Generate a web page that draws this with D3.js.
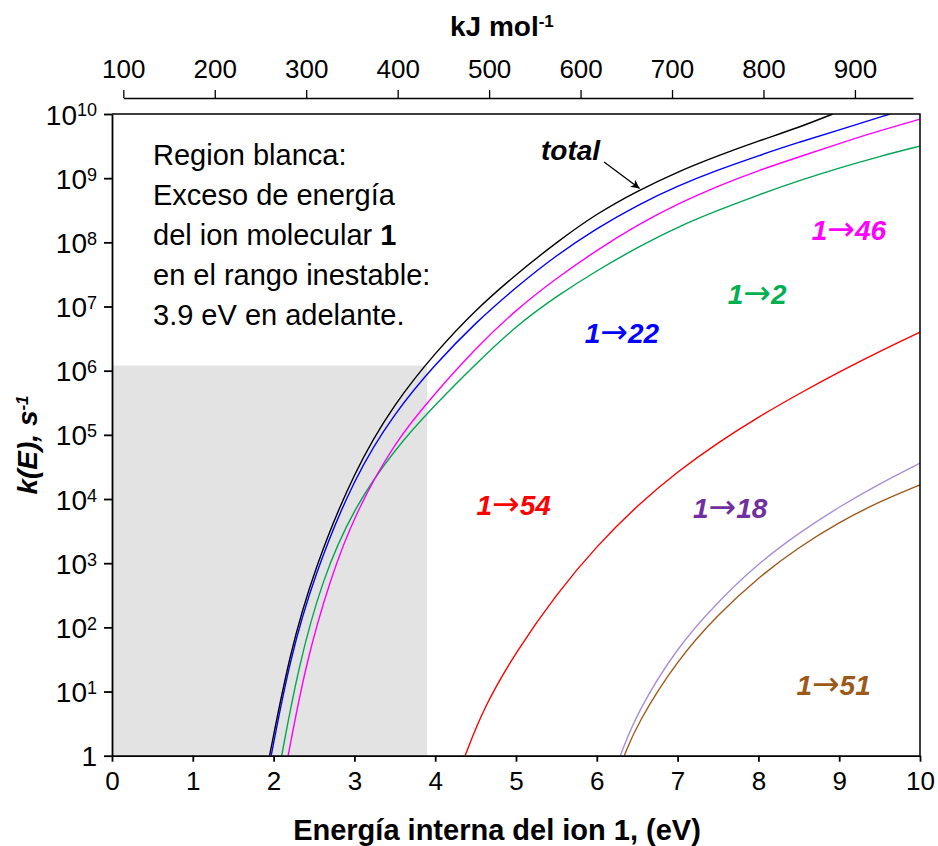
<!DOCTYPE html>
<html>
<head>
<meta charset="utf-8">
<script src="https://cdn.jsdelivr.net/npm/d3@7"></script>
<style>
  body { margin: 0; background: #fff; }
  text { font-family: "Liberation Sans", Arial, sans-serif; }
</style>
</head>
<body>
<div id="viz"></div>
<script>
// frame size and plot box
const F_WIDTH = 938;
const F_HEIGHT = 846;
const PLOT = {left: 112, right: 920, top: 114, bottom: 755.7};

// data: energy (eV) and log10 k(E) (k in s^-1)
const E_TOTAL = [1.95, 2.2, 2.5, 3.0, 3.5, 4.0, 4.5, 5.0, 5.5, 6.0, 6.5, 7.0, 7.5, 8.0, 8.5, 8.92];
const LOGK_TOTAL = [0, 1.6, 2.9, 4.45, 5.5, 6.28, 6.95, 7.5, 8.0, 8.45, 8.8, 9.1, 9.35, 9.58, 9.79, 10];

const E_22 = [1.97, 2.2, 2.5, 3.0, 3.5, 4.0, 4.5, 5.0, 5.5, 6.0, 6.5, 7.0, 7.5, 8.0, 8.5, 9.0, 9.63];
const LOGK_22 = [0, 1.5, 2.8, 4.35, 5.35, 6.1, 6.75, 7.3, 7.8, 8.22, 8.58, 8.88, 9.13, 9.35, 9.56, 9.75, 10];

const E_46 = [2.18, 2.4, 2.7, 3.0, 3.5, 4.0, 4.5, 5.0, 5.5, 6.0, 6.5, 7.0, 7.5, 8.0, 8.5, 9.0, 9.5, 10.0];
const LOGK_46 = [0, 1.45, 2.75, 3.75, 4.9, 5.65, 6.35, 6.95, 7.44, 7.88, 8.27, 8.6, 8.88, 9.12, 9.33, 9.54, 9.74, 9.92];

const E_2 = [2.10, 2.3, 2.6, 3.0, 3.5, 4.0, 4.5, 5.0, 5.5, 6.0, 6.5, 7.0, 7.5, 8.0, 8.5, 9.0, 9.5, 10.0];
const LOGK_2 = [0, 1.35, 2.75, 3.88, 4.78, 5.47, 6.1, 6.7, 7.16, 7.56, 7.92, 8.24, 8.5, 8.74, 8.96, 9.16, 9.34, 9.5];

const E_54 = [4.37, 4.6, 5.0, 5.5, 6.0, 6.5, 7.0, 7.5, 8.0, 8.5, 9.0, 9.5, 10.0];
const LOGK_54 = [0, 0.75, 1.62, 2.52, 3.27, 3.9, 4.43, 4.88, 5.28, 5.64, 5.98, 6.3, 6.6];

const E_18 = [6.29, 6.5, 7.0, 7.5, 8.0, 8.5, 9.0, 9.5, 10.0];
const LOGK_18 = [0, 0.68, 1.7, 2.4, 3.0, 3.47, 3.88, 4.24, 4.56];

const E_51 = [6.34, 6.5, 7.0, 7.5, 8.0, 8.5, 9.0, 9.5, 10.0];
const LOGK_51 = [0, 0.5, 1.5, 2.2, 2.78, 3.25, 3.64, 3.96, 4.22];

// shaded region: energies below 3.9 eV
const GRAY_E = 3.9;
const GRAY_K = 1.2e6;

// axis ticks
const X_TICKS = [0, 1, 2, 3, 4, 5, 6, 7, 8, 9, 10];
const Y_EXPONENTS = [0, 1, 2, 3, 4, 5, 6, 7, 8, 9, 10];
const KJ_TICKS = [100, 200, 300, 400, 500, 600, 700, 800, 900];
const KJ_MAX = 963.5;

const SERIES = [
  {name: "total", e: E_TOTAL, logk: LOGK_TOTAL, color: "#000000"},
  {name: "1→22", e: E_22, logk: LOGK_22, color: "#0000ff"},
  {name: "1→46", e: E_46, logk: LOGK_46, color: "#ff00ff"},
  {name: "1→2",  e: E_2,  logk: LOGK_2,  color: "#00a651"},
  {name: "1→54", e: E_54, logk: LOGK_54, color: "#ff0000"},
  {name: "1→18", e: E_18, logk: LOGK_18, color: "#a98fd6"},
  {name: "1→51", e: E_51, logk: LOGK_51, color: "#9c5a1a"}
];

// labels placed in data units (left edge of text, baseline)
const LABELS = [
  {from: "1", to: "22", e: 5.85, k: 2.7e6, color: "#0000ff"},
  {from: "1", to: "2",  e: 7.62, k: 1.1e7, color: "#00b050"},
  {from: "1", to: "46", e: 8.66, k: 1.1e8, color: "#ff00ff"},
  {from: "1", to: "54", e: 4.51, k: 5.6e3, color: "#ff0000"},
  {from: "1", to: "18", e: 7.19, k: 5.0e3, color: "#7030a0"},
  {from: "1", to: "51", e: 8.47, k: 8.7,   color: "#9c5a1a"}
];
const TOTAL_LABEL = {e: 5.31, k: 1.9e9};
const TOTAL_ARROW = {e0: 6.09, k0: 1.78e9, e1: 6.53, k1: 6.9e8};

const NOTE_LINES = ["Region blanca:", "Exceso de energía", "del ion molecular ", "en el rango inestable:", "3.9 eV en adelante."];

const FRAME = d3.select("#viz")
  .append("svg")
    .attr("width", F_WIDTH)
    .attr("height", F_HEIGHT);

const X_SCALE = d3.scaleLinear().domain([0, 10]).range([PLOT.left, PLOT.right]);
const Y_SCALE = d3.scaleLog().domain([1, 1e10]).range([PLOT.bottom, PLOT.top]);
const KJ_SCALE = d3.scaleLinear().domain([100, KJ_MAX]).range([123.3, 913]);

// clip for curves
FRAME.append("clipPath").attr("id", "clip")
  .append("rect")
    .attr("x", PLOT.left).attr("y", PLOT.top)
    .attr("width", PLOT.right - PLOT.left).attr("height", PLOT.bottom - PLOT.top);

// gray region
FRAME.append("rect")
  .attr("x", X_SCALE(0))
  .attr("y", Y_SCALE(GRAY_K))
  .attr("width", X_SCALE(GRAY_E) - X_SCALE(0))
  .attr("height", Y_SCALE(1) - Y_SCALE(GRAY_K))
  .style("fill", "#e3e3e3");

// curves (smoothed through the read points)
const line = d3.line()
  .x(d => X_SCALE(d[0]))
  .y(d => Y_SCALE(Math.pow(10, d[1])))
  .curve(d3.curveBasis);

FRAME.append("g").attr("clip-path", "url(#clip)")
  .selectAll("path")
  .data(SERIES.slice().reverse())
  .enter()
  .append("path")
    .attr("d", s => line(s.e.map((e, i) => [e, s.logk[i]])))
    .style("fill", "none")
    .style("stroke", s => s.color)
    .style("stroke-width", 1.4);

// plot box (top and right)
FRAME.append("path")
  .attr("d", `M${PLOT.left},${PLOT.top}H${PLOT.right}V${PLOT.bottom}`)
  .style("fill", "none").style("stroke", "#000").style("stroke-width", 1.5);

// bottom axis
const xAxis = FRAME.append("g")
  .attr("transform", `translate(0,${PLOT.bottom})`)
  .call(d3.axisBottom(X_SCALE).tickValues(X_TICKS).tickSize(6).tickSizeOuter(0).tickPadding(10));
xAxis.selectAll("text").style("font-size", "26px").attr("fill", "#000");

// left axis
const yAxis = FRAME.append("g")
  .attr("transform", `translate(${PLOT.left},0)`)
  .call(d3.axisLeft(Y_SCALE).tickValues(Y_EXPONENTS.map(p => Math.pow(10, p)))
    .tickSize(8).tickSizeOuter(0).tickFormat(""));
yAxis.selectAll(".tick").each(function(d, i) {
  const p = Y_EXPONENTS[i];
  const t = d3.select(this).append("text")
    .attr("x", -15).attr("dy", "0.36em")
    .attr("text-anchor", "end")
    .attr("fill", "#000")
    .style("font-size", "28px");
  if (p === 0) {
    t.text("1");
  } else {
    t.append("tspan").text("10");
    t.append("tspan").attr("dy", "-0.45em").style("font-size", "18px").text(p);
  }
});

[xAxis, yAxis].forEach(a => {
  a.selectAll("path, line").style("stroke", "#000").style("stroke-width", 1.8);
});

// top kJ/mol axis
const topAxis = FRAME.append("g")
  .attr("transform", "translate(0,98)")
  .call(d3.axisTop(KJ_SCALE).tickValues(KJ_TICKS).tickSize(8).tickSizeOuter(0).tickPadding(12));
topAxis.selectAll("text").style("font-size", "26px").attr("fill", "#000");
topAxis.selectAll("path, line").style("stroke", "#000").style("stroke-width", 1.3);

// axis titles
FRAME.append("text")
  .attr("x", 497).attr("y", 840)
  .attr("text-anchor", "middle")
  .style("font-size", "29px").style("font-weight", "bold")
  .text("Energía interna del ion 1, (eV)");

const topTitle = FRAME.append("text")
  .attr("x", 450).attr("y", 36)
  .style("font-size", "28px").style("font-weight", "bold");
topTitle.append("tspan").text("kJ mol");
topTitle.append("tspan").attr("dy", "-0.55em").style("font-size", "17px").text("-1");

const yTitle = FRAME.append("text")
  .attr("transform", "translate(37,445) rotate(-90)")
  .attr("text-anchor", "middle")
  .style("font-size", "28px").style("font-weight", "bold").style("font-style", "italic");
yTitle.append("tspan").text("k(E), s");
yTitle.append("tspan").attr("dy", "-0.55em").style("font-size", "17px").text("-1");

// note text
const note = FRAME.append("g");
NOTE_LINES.forEach((s, i) => {
  const t = note.append("text")
    .attr("x", 153).attr("y", 165 + i * 40)
    .style("font-size", "29px");
  t.append("tspan").text(s);
  if (i === 2) t.append("tspan").style("font-weight", "bold").text("1");
});

// series labels
const lbl = FRAME.selectAll(".lbl")
  .data(LABELS)
  .enter()
  .append("text")
    .attr("x", d => X_SCALE(d.e))
    .attr("y", d => Y_SCALE(d.k))
    .style("font-size", "28px").style("font-weight", "bold").style("font-style", "italic")
    .style("fill", d => d.color);
lbl.append("tspan").text(d => d.from);
lbl.append("tspan")
  .style("font-family", "'DejaVu Sans', sans-serif")
  .style("font-weight", "normal").style("font-style", "normal")
  .style("font-size", "33px")
  .text("→");
lbl.append("tspan").text(d => d.to);

// total label + arrow
FRAME.append("defs").append("marker")
  .attr("id", "arrow").attr("viewBox", "0 0 10 10")
  .attr("refX", 10).attr("refY", 5)
  .attr("markerWidth", 9).attr("markerHeight", 9)
  .attr("markerUnits", "userSpaceOnUse")
  .attr("orient", "auto")
  .append("path").attr("d", "M0,0L10,5L0,10L3,5z").style("fill", "#000");

FRAME.append("text")
  .attr("x", X_SCALE(TOTAL_LABEL.e)).attr("y", Y_SCALE(TOTAL_LABEL.k))
  .style("font-size", "28px").style("font-weight", "bold").style("font-style", "italic")
  .text("total");

FRAME.append("line")
  .attr("x1", X_SCALE(TOTAL_ARROW.e0)).attr("y1", Y_SCALE(TOTAL_ARROW.k0))
  .attr("x2", X_SCALE(TOTAL_ARROW.e1)).attr("y2", Y_SCALE(TOTAL_ARROW.k1))
  .style("stroke", "#000").style("stroke-width", 1.3)
  .attr("marker-end", "url(#arrow)");
</script>
</body>
</html>
